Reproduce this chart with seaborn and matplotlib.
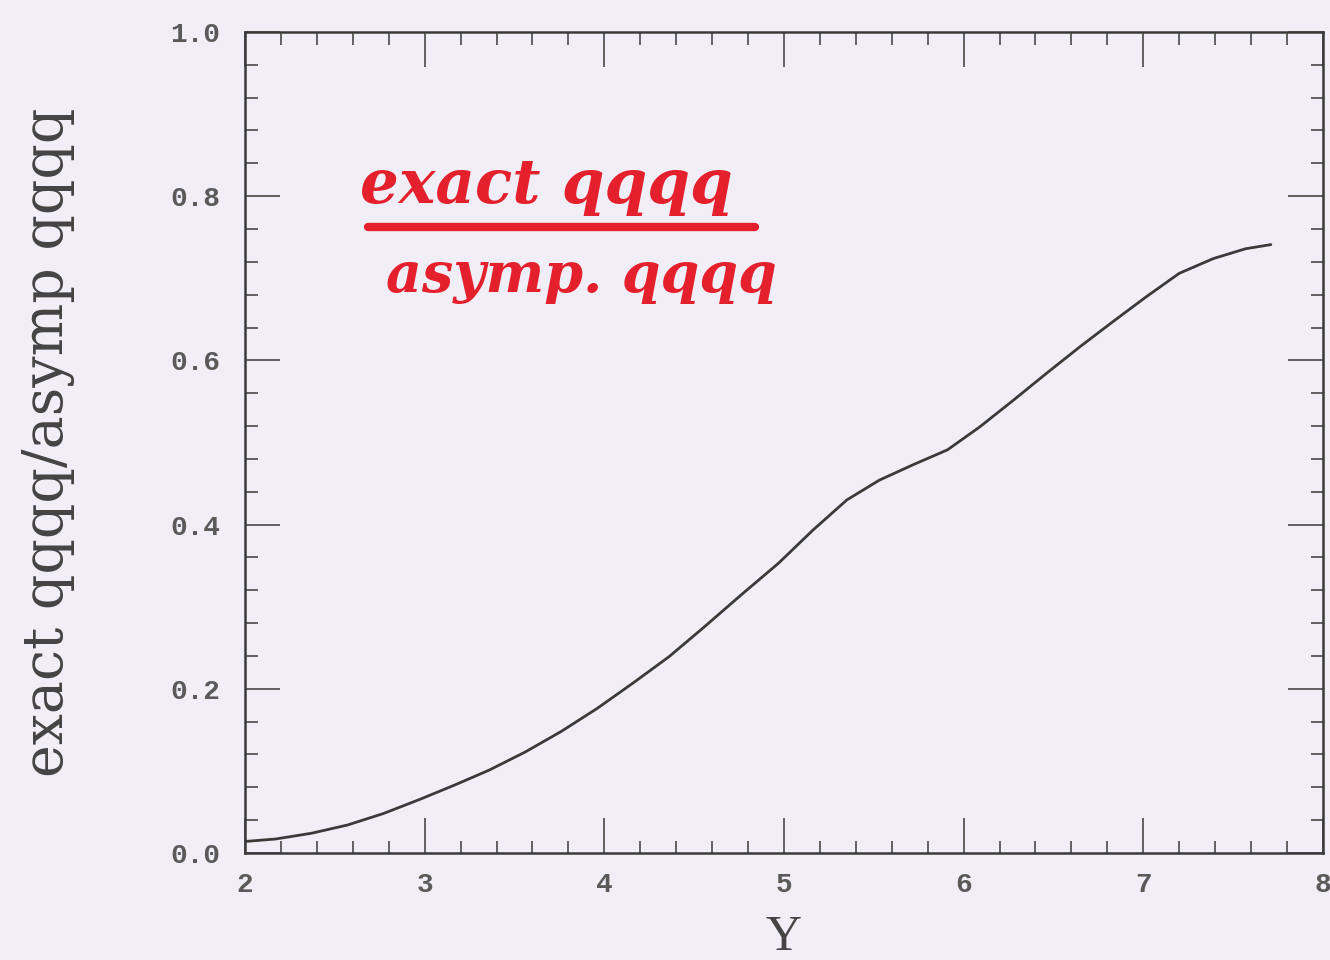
import numpy as np
import pandas as pd
import matplotlib
matplotlib.use("Agg")
import matplotlib.pyplot as plt
import seaborn as sns
from matplotlib.ticker import MultipleLocator

# ---- data ----
rapidity = [2.00, 2.17, 2.37, 2.57, 2.77, 2.97, 3.17, 3.36, 3.56, 3.76,
            3.96, 4.16, 4.36, 4.56, 4.76, 4.97, 5.16, 5.35, 5.53, 5.72,
            5.91, 6.09, 6.28, 6.46, 6.65, 6.83, 7.02, 7.20, 7.39, 7.57, 7.71]
ratio = [0.014, 0.017, 0.024, 0.034, 0.048, 0.065, 0.083, 0.101, 0.123, 0.148,
         0.176, 0.207, 0.239, 0.276, 0.314, 0.353, 0.393, 0.430, 0.454, 0.473,
         0.491, 0.519, 0.552, 0.584, 0.617, 0.647, 0.678, 0.706, 0.724, 0.736, 0.741]
x_ticks = [2, 3, 4, 5, 6, 7, 8]
y_ticks = [0.0, 0.2, 0.4, 0.6, 0.8, 1.0]
y_tick_labels = ["0.0", "0.2", "0.4", "0.6", "0.8", "1.0"]
x_label = "Y"
y_label = "exact qqqq/asymp qqqq"
note_top = "exact qqqq"
note_bottom = "asymp. qqqq"

df = pd.DataFrame({"Y": rapidity, "ratio": ratio})

sns.set_theme(style="ticks")
bg = "#f2eef7"
plt.rcParams["font.family"] = ["Liberation Serif", "DejaVu Serif"]

fig = plt.figure(figsize=(13.3, 9.6), dpi=100, facecolor=bg)
ax = fig.add_axes([0.1842, 0.1115, 0.8105, 0.8552])
ax.set_facecolor(bg)

sns.lineplot(data=df, x="Y", y="ratio", ax=ax, color="#3a3a3a", linewidth=2.0)

ax.set_xlim(2, 8)
ax.set_ylim(0, 1)
ax.set_xticks(x_ticks)
ax.set_xticklabels([str(t) for t in x_ticks])
ax.set_yticks(y_ticks)
ax.set_yticklabels(y_tick_labels)
ax.xaxis.set_minor_locator(MultipleLocator(0.2))
ax.yaxis.set_minor_locator(MultipleLocator(0.04))

for s in ax.spines.values():
    s.set_visible(True)
    s.set_color("#3a3a3a")
    s.set_linewidth(1.8)

ax.tick_params(which="both", direction="in", top=True, right=True,
               color="#3a3a3a", width=1.1)
ax.tick_params(which="major", length=25)
ax.tick_params(which="minor", length=9)
ax.tick_params(axis="x", which="major", pad=14)
ax.tick_params(axis="y", which="major", pad=18)
for lab in ax.get_xticklabels() + ax.get_yticklabels():
    lab.set_fontfamily(["Liberation Mono", "DejaVu Sans Mono"])
    lab.set_fontsize(20)
    lab.set_fontweight("bold")
    lab.set_color("#5a5a5a")

ax.set_xlabel(x_label, fontsize=36, color="#444444")
ax.set_ylabel(y_label, fontsize=40, color="#444444",
              fontfamily=["DejaVu Serif"])
ax.xaxis.set_label_coords(0.5, -0.075)
ax.yaxis.set_label_coords(-0.158, 0.5)
ax.xaxis.label.set_va("top")

red = "#e4202c"
ax.text(3.68, 0.792, note_top, color=red, fontsize=44, style="italic",
        fontweight="bold", ha="center", va="baseline",
        fontfamily=["DejaVu Serif"])
ax.plot([2.685, 4.838], [0.762, 0.762], color=red, linewidth=6,
        solid_capstyle="round")
ax.text(3.875, 0.683, note_bottom, color=red, fontsize=40, style="italic",
        fontweight="bold", ha="center", va="baseline",
        fontfamily=["DejaVu Serif"])

fig.savefig("out.png", dpi=100, facecolor=bg)
